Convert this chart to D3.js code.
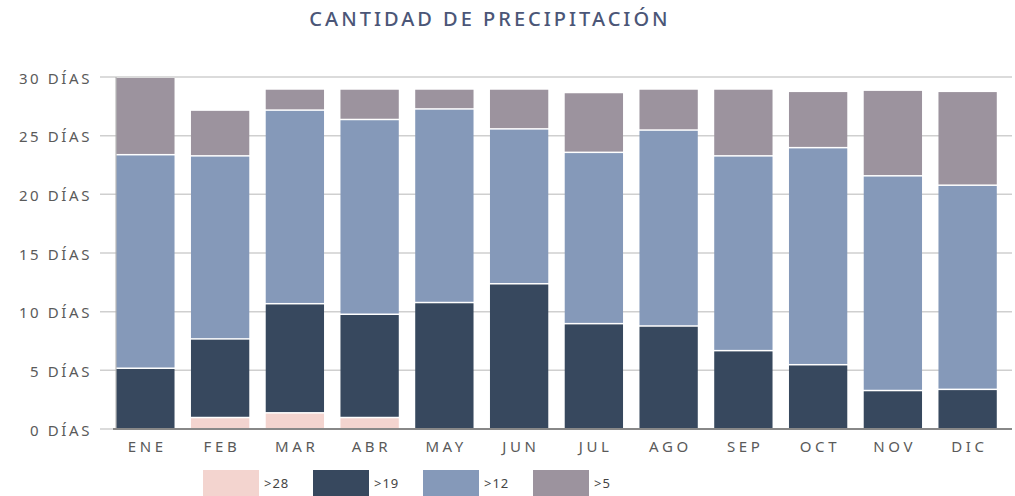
<!DOCTYPE html>
<html>
<head>
<meta charset="utf-8">
<script src="https://cdn.jsdelivr.net/npm/d3@7"></script>
<style>
  body { margin: 0; background: #fff; }
  svg text { font-family: "Noto Sans", "Open Sans", sans-serif; }
</style>
</head>
<body>
<div id="chart"></div>
<script>
// months and series (days per month in each band, stacked bottom to top)
var months = ["ENE", "FEB", "MAR", "ABR", "MAY", "JUN", "JUL", "AGO", "SEP", "OCT", "NOV", "DIC"];
var over28 = [0, 1.0, 1.4, 1.0, 0, 0, 0, 0, 0, 0, 0, 0];
var over19 = [5.2, 6.7, 9.3, 8.8, 10.8, 12.4, 9.0, 8.8, 6.7, 5.5, 3.3, 3.4];
var over12 = [18.2, 15.6, 16.5, 16.6, 16.5, 13.2, 14.6, 16.7, 16.6, 18.5, 18.3, 17.4];
var over5 = [6.6, 3.9, 1.8, 2.6, 1.7, 3.4, 5.1, 3.5, 5.7, 4.8, 7.3, 8.0];
var seriesNames = [">28", ">19", ">12", ">5"];
var seriesColors = ["#f3d4cf", "#37485e", "#8599b9", "#9c939e"];
var yTicks = [0, 5, 10, 15, 20, 25, 30];

var width = 1015, height = 496;

var svg = d3.select("#chart").append("svg")
  .attr("width", width)
  .attr("height", height);

// title
svg.append("text")
  .attr("x", 490)
  .attr("y", 26)
  .attr("text-anchor", "middle")
  .style("font-size", "20px")
  .style("font-weight", 500)
  .style("letter-spacing", "3px")
  .style("fill", "#4b5677")
  .text("CANTIDAD DE PRECIPITACIÓN");

var x = d3.scaleBand().domain(months).range([108, 1005]).paddingInner(0.22).paddingOuter(0.11);
var y = d3.scaleLinear().domain([0, 30]).range([429, 77]);

// gridlines + tick labels
svg.append("g")
  .selectAll("line")
  .data(yTicks)
  .enter().append("line")
  .attr("x1", 100)
  .attr("x2", 1012)
  .attr("y1", function (d) { return y(d); })
  .attr("y2", function (d) { return y(d); })
  .attr("stroke", "#cfcfcf")
  .attr("stroke-width", 1.5);

svg.append("g")
  .selectAll("text")
  .data(yTicks)
  .enter().append("text")
  .attr("x", 92)
  .attr("y", function (d) { return y(d) + 6.5; })
  .attr("text-anchor", "end")
  .style("font-size", "15px")
  .style("letter-spacing", "2.6px")
  .style("fill", "#5a5a5a")
  .text(function (d) { return d + " DÍAS"; });

// stacked bars
var rows = months.map(function (m, i) {
  return { month: m, s0: over28[i], s1: over19[i], s2: over12[i], s3: over5[i] };
});
var stack = d3.stack().keys(["s0", "s1", "s2", "s3"]);
var layers = stack(rows);

svg.append("g")
  .selectAll("g")
  .data(layers)
  .enter().append("g")
  .attr("fill", function (d, i) { return seriesColors[i]; })
  .selectAll("rect")
  .data(function (d) { return d.filter(function (p) { return p[1] - p[0] > 0; }); })
  .enter().append("rect")
  .attr("x", function (d) { return x(d.data.month); })
  .attr("width", x.bandwidth())
  .attr("y", function (d) { return y(d[1]) + 1; })
  .attr("height", function (d) { return Math.max(0, y(d[0]) - y(d[1]) - 1.5); });

// axis lines
svg.append("line")
  .attr("x1", 116).attr("x2", 116)
  .attr("y1", 77).attr("y2", 429)
  .attr("stroke", "#aaa").attr("stroke-width", 1);
svg.append("line")
  .attr("x1", 113).attr("x2", 1012)
  .attr("y1", 429).attr("y2", 429)
  .attr("stroke", "#888").attr("stroke-width", 2);

// month labels
svg.append("g")
  .selectAll("text")
  .data(months)
  .enter().append("text")
  .attr("x", function (d) { return x(d) + x.bandwidth() / 2 + 1.8; })
  .attr("y", 452)
  .attr("text-anchor", "middle")
  .style("font-size", "15px")
  .style("letter-spacing", "3.6px")
  .style("fill", "#5a5a5a")
  .text(function (d) { return d; });

// legend
var legend = svg.append("g")
  .selectAll("g")
  .data(seriesNames)
  .enter().append("g")
  .attr("transform", function (d, i) { return "translate(" + (203 + i * 110) + ",470)"; });
legend.append("rect")
  .attr("width", 56)
  .attr("height", 30)
  .attr("fill", function (d, i) { return seriesColors[i]; });
legend.append("text")
  .attr("x", 61)
  .attr("y", 17.5)
  .style("font-size", "13px")
  .style("letter-spacing", "1px")
  .style("fill", "#444")
  .text(function (d) { return d; });
</script>
</body>
</html>
